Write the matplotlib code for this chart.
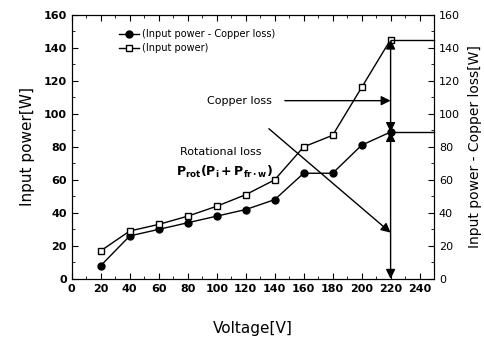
import numpy as np
import matplotlib.pyplot as plt
from matplotlib.ticker import MultipleLocator

# data
voltage = [20, 40, 60, 80, 100, 120, 140, 160, 180, 200, 220]
input_power = [17, 29, 33, 38, 44, 51, 60, 80, 87, 116, 145]
minus_copper = [8, 26, 30, 34, 38, 42, 48, 64, 64, 81, 89]

fig = plt.figure(figsize=(4.85, 3.38), dpi=100)
ax = fig.add_axes([0.148, 0.175, 0.747, 0.781])

ax.plot(voltage, minus_copper, '-o', color='black', lw=1, ms=5,
        label='(Input power - Copper loss)')
ax.plot(voltage, input_power, '-s', color='black', lw=1, ms=4.5,
        mfc='white', mew=1, label='(Input power)')

ax.set_xlim(0, 250)
ax.set_ylim(0, 160)
ax.xaxis.set_major_locator(MultipleLocator(20))
ax.xaxis.set_minor_locator(MultipleLocator(10))
ax.yaxis.set_major_locator(MultipleLocator(20))
ax.yaxis.set_minor_locator(MultipleLocator(10))
ax.tick_params(which='both', direction='in', top=True, labelsize=8)
ax.tick_params(which='major', length=4)
ax.tick_params(which='minor', length=2)
ax.set_xticks(range(0, 241, 20))
for t in ax.get_xticklabels() + ax.get_yticklabels():
    t.set_fontweight('bold')

ax2 = ax.twinx()
ax2.set_ylim(0, 160)
ax2.yaxis.set_major_locator(MultipleLocator(20))
ax2.yaxis.set_minor_locator(MultipleLocator(10))
ax2.tick_params(which='both', direction='in', labelsize=8)
ax2.tick_params(which='major', length=4)
ax2.tick_params(which='minor', length=2)

ax.set_xlabel('Voltage[V]', fontsize=11, labelpad=20)
ax.set_ylabel('Input power[W]', fontsize=11, labelpad=6)
ax2.set_ylabel('Input power - Copper loss[W]', fontsize=10, labelpad=6)

# loss bars at 220 V
top = input_power[-1]
mid = minus_copper[-1]
x_end = voltage[-1]
ax.plot([x_end, 250], [top, top], color='black', lw=1, clip_on=False)
ax.plot([x_end, 250], [mid, mid], color='black', lw=1, clip_on=False)
arr = dict(arrowstyle='<|-|>', color='black', lw=1, mutation_scale=14, shrinkA=0, shrinkB=0)
ax.annotate('', xy=(x_end, top), xytext=(x_end, mid), arrowprops=arr, zorder=5)
ax.annotate('', xy=(x_end, mid), xytext=(x_end, 0), arrowprops=arr, zorder=5)

one = dict(arrowstyle='-|>', color='black', lw=1, mutation_scale=14, shrinkA=0, shrinkB=0)
ax.annotate('', xy=(x_end, 108), xytext=(147, 108), arrowprops=one, zorder=5)
ax.text(93, 108, 'Copper loss', fontsize=8, va='center')
ax.annotate('', xy=(x_end, 28), xytext=(136, 91), arrowprops=one, zorder=5)
ax.text(75, 77, 'Rotational loss', fontsize=8, va='center')
ax.text(72, 65, r'$\mathbf{P_{rot}(P_{i}+P_{fr\cdot w})}$',
        fontsize=9, va='center', family='serif')

ax.legend(loc='upper left', bbox_to_anchor=(0.12, 0.96), frameon=False,
          fontsize=7, handlelength=2, handletextpad=0.3, labelspacing=0.4,
          borderaxespad=0)

fig.savefig('out.png', dpi=100)
